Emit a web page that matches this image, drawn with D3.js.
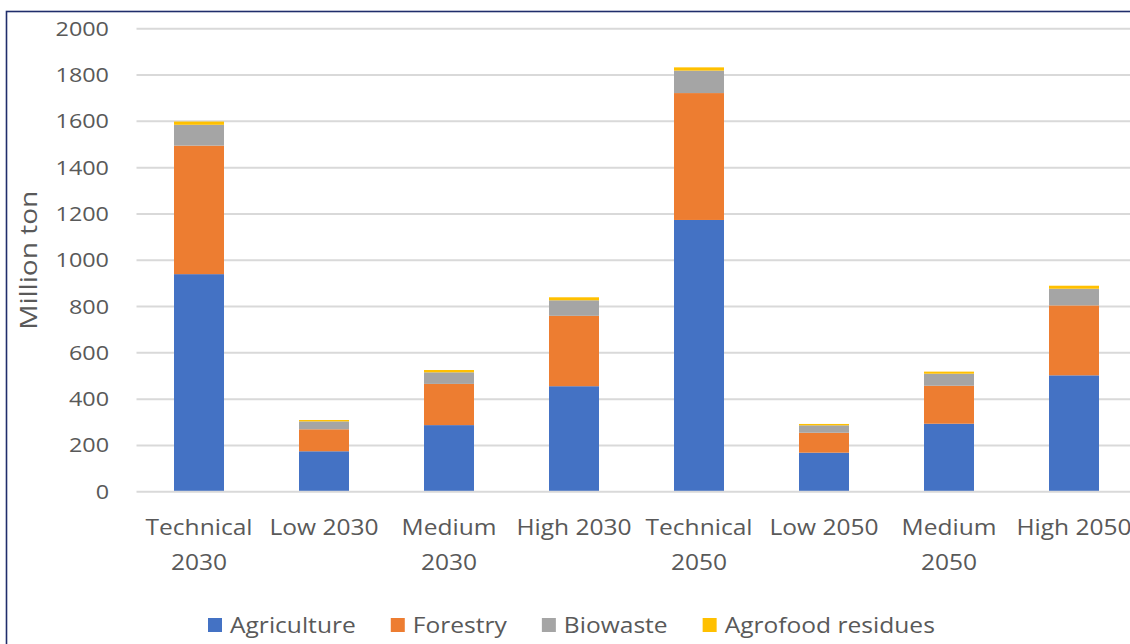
<!DOCTYPE html>
<html>
<head>
<meta charset="utf-8">
<script src="https://cdn.jsdelivr.net/npm/d3@7"></script>
<style>
  html, body { margin: 0; padding: 0; background: #fff; }
  svg { display: block; font-family: "Open Sans", "Noto Sans", sans-serif; }
</style>
</head>
<body>
<svg id="chart" width="1130" height="644"></svg>
<script>
// Biomass potential by scenario (million ton)
const categories = ["Technical 2030", "Low 2030", "Medium 2030", "High 2030",
                    "Technical 2050", "Low 2050", "Medium 2050", "High 2050"];
const seriesNames = ["Agriculture", "Forestry", "Biowaste", "Agrofood residues"];
const agriculture = [940, 175, 288, 456, 1174, 169, 294, 503];
const forestry    = [555,  95, 178, 304,  548,  86, 164, 302];
const biowaste    = [ 90,  34,  50,  67,   97,  32,  52,  72];
const agrofood    = [ 14,   6,  10,  13,   14,   6,   9,  13];
const yTicks = [0, 200, 400, 600, 800, 1000, 1200, 1400, 1600, 1800, 2000];
const colors = ["#4472C4", "#ED7D31", "#A5A5A5", "#FFC000"];

const seriesValues = [agriculture, forestry, biowaste, agrofood];
const rows = categories.map((c, i) => {
  const r = { category: c };
  seriesNames.forEach((s, k) => { r[s] = seriesValues[k][i]; });
  return r;
});

const svg = d3.select("#chart");
const textColor = "#595959";
const gridColor = "#D9D9D9";
const sx = 1.17; // horizontal widening of the text glyphs

const plot = { left: 136.5, right: 1136.5, top: 28.7, bottom: 491.8 };

const x = d3.scaleBand()
  .domain(categories)
  .range([plot.left, plot.right])
  .paddingInner(0.6)
  .paddingOuter(0.3);

const y = d3.scaleLinear()
  .domain([0, 2000])
  .range([plot.bottom, plot.top]);

// Writes a label whose glyphs are widened by sx around its anchor point
function label(parent, px, py, str, size, anchor) {
  return parent.append("text")
    .attr("transform", `translate(${px},${py}) scale(${sx},1)`)
    .attr("text-anchor", anchor)
    .attr("fill", textColor)
    .style("font-size", size + "px")
    .text(str);
}

// Chart frame
svg.append("rect")
  .attr("x", 6.5).attr("y", 11.5)
  .attr("width", 1140).attr("height", 660)
  .attr("fill", "none")
  .attr("stroke", "#1F2D6B")
  .attr("stroke-width", 1.6);

// Horizontal gridlines
svg.append("g")
  .selectAll("line")
  .data(yTicks.filter(t => t > 0))
  .join("line")
  .attr("x1", plot.left).attr("x2", 1130)
  .attr("y1", d => y(d)).attr("y2", d => y(d))
  .attr("stroke", gridColor)
  .attr("stroke-width", 2);

// Y axis labels
const fmt = d3.format("d");
const yg = svg.append("g");
yTicks.forEach(t => {
  label(yg, 109, y(t), fmt(t), 20, "end").attr("dy", "0.35em");
});

// Stacked bars
const stack = d3.stack().keys(seriesNames);
const stacked = stack(rows);

svg.append("g")
  .selectAll("g")
  .data(stacked)
  .join("g")
  .attr("fill", (d, i) => colors[i])
  .selectAll("rect")
  .data(d => d)
  .join("rect")
  .attr("x", d => x(d.data.category))
  .attr("width", x.bandwidth())
  .attr("y", d => y(d[1]))
  .attr("height", d => y(d[0]) - y(d[1]));

// X axis baseline
svg.append("line")
  .attr("x1", plot.left).attr("x2", 1130)
  .attr("y1", y(0)).attr("y2", y(0))
  .attr("stroke", gridColor)
  .attr("stroke-width", 2);

// Category labels, wrapped onto two lines when wider than a band step
const xg = svg.append("g");
categories.forEach(c => {
  const cx = x(c) + x.bandwidth() / 2;
  const t = label(xg, cx, 535, c, 21, "middle");
  if (t.node().getComputedTextLength() * sx > x.step()) {
    const words = c.split(" ");
    const last = words.pop();
    t.text(null);
    t.append("tspan").attr("x", 0).attr("y", 0).text(words.join(" "));
    t.append("tspan").attr("x", 0).attr("y", 35).text(last);
  }
});

// Y axis title
svg.append("text")
  .attr("transform", `translate(37,${(plot.top + plot.bottom) / 2}) rotate(-90) scale(${sx},1)`)
  .attr("text-anchor", "middle")
  .attr("fill", textColor)
  .style("font-size", "24px")
  .text("Million ton");

// Legend
const legend = svg.append("g");
let lx = 208;
seriesNames.forEach((s, i) => {
  legend.append("rect")
    .attr("x", lx).attr("y", 618)
    .attr("width", 14).attr("height", 14)
    .attr("fill", colors[i]);
  const t = label(legend, lx + 22, 633, s, 21, "start");
  lx += 22 + t.node().getComputedTextLength() * sx + 35;
});
</script>
</body>
</html>
